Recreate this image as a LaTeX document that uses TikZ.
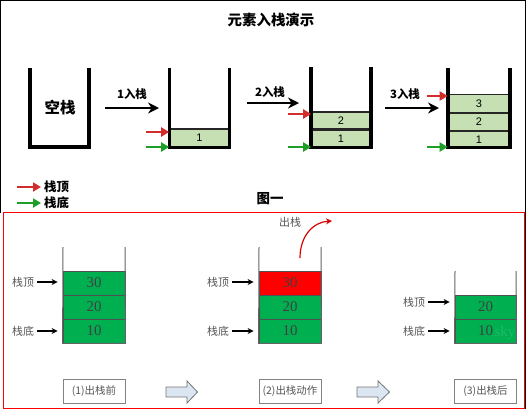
\documentclass[tikz,border=0pt]{standalone}
\usepackage{fontspec}
\setmainfont{Liberation Serif}
\newfontfamily\cjk{Noto Sans CJK SC}
\newfontfamily\arial{Liberation Sans}
\usetikzlibrary{arrows.meta}
\definecolor{lgreen}{RGB}{198,224,180}
\definecolor{tred}{RGB}{210,45,45}
\definecolor{tgreen}{RGB}{30,160,40}
\definecolor{bgreen}{RGB}{0,176,80}
\definecolor{bred}{RGB}{255,0,0}
\definecolor{lblue}{RGB}{220,230,242}
\definecolor{gline}{RGB}{100,100,100}
\definecolor{gtext}{RGB}{85,85,85}
\tikzset{
  wall/.style={line width=3.2bp,line join=miter},
  tbox/.style={draw=black!85,line width=1.6bp,fill=lgreen,inner sep=0pt,
    font=\arial\fontsize{11}{12}\selectfont},
  pusharr/.style={line width=2.8bp,-{Stealth[length=11bp,width=11bp]}},
  pushlbl/.style={font=\cjk\bfseries\fontsize{11.5}{13}\selectfont},
  redarr/.style={tred,line width=2.6bp,-{Triangle[length=8bp,width=9bp]}},
  greenarr/.style={tgreen,line width=2.6bp,-{Triangle[length=8bp,width=9bp]}},
  gwall/.style={gline,line width=1bp},
  bbox/.style={draw=gline!80!black,line width=0.8bp,fill=bgreen,inner sep=0pt,
    minimum height=24bp,text=black!75,font=\fontsize{15}{16}\selectfont},
  rbox/.style={bbox,fill=bred},
  blbl/.style={text=gtext,font=\cjk\fontsize{11}{12}\selectfont},
  barr/.style={line width=1.2bp,-{Stealth[length=6bp,width=6bp]}},
  btn/.style={draw=gline!80,line width=0.9bp,fill=white,minimum width=62bp,
    minimum height=24bp,inner sep=0pt,text=gtext,font=\cjk\fontsize{10.5}{12}\selectfont},
  hollow/.style={draw=gline!90,line width=0.8bp,fill=lblue,line join=miter}
}
\begin{document}
\begin{tikzpicture}[x=1bp,y=-1bp]
\useasboundingbox (0,0) rectangle (526,409);
% frames
\draw[black,line width=1.3bp] (0.7,212.5) -- (0.7,0.7) -- (525.3,0.7) -- (525.3,409);
\draw[bred,line width=1.2bp] (3.6,212.5) rectangle (524.6,408.2);

% ---------- top panel ----------
\node[font=\cjk\bfseries\fontsize{14.5}{16}\selectfont] (title) at (271,20) {元素入栈演示};

% empty stack
\draw[wall] (30,68) -- (30,147) -- (89,147) -- (89,68);
\node[font=\cjk\bfseries\fontsize{15.5}{17}\selectfont] (empty) at (60,108) {空栈};

% push 1
\coordinate (p1s) at (105,108); \coordinate (p1e) at (159,108);
\draw[pusharr] (p1s) -- (p1e);
\node[pushlbl] (l1) at (132,94) {1入栈};

% stack 2
\node[tbox,minimum width=59bp,minimum height=18bp] (s2a) at (199.5,138) {1};
\draw[wall] (169.5,68) -- (169.5,147.5) -- (229.5,147.5) -- (229.5,68);
\coordinate (r2) at (146,132); \coordinate (g2) at (146,147);
\draw[redarr] (r2) -- (r2 -| s2a.west);
\draw[greenarr] (g2) -- (g2 -| s2a.west);

% push 2
\coordinate (p2s) at (247,103); \coordinate (p2e) at (299,103);
\draw[pusharr] (p2s) -- (p2e);
\node[pushlbl] (l2) at (270,92) {2入栈};

% stack 3
\node[tbox,minimum width=58bp,minimum height=17bp] (s3a) at (341,138.5) {1};
\node[tbox,minimum width=58bp,minimum height=17bp] (s3b) at (341,120.5) {2};
\draw[wall] (311,67) -- (311,147.5) -- (371,147.5) -- (371,67);
\coordinate (r3) at (288,114); \coordinate (g3) at (288,147);
\draw[redarr] (r3) -- (r3 -| s3b.west);
\draw[greenarr] (g3) -- (g3 -| s3a.west);

% push 3
\coordinate (p3s) at (385,108); \coordinate (p3e) at (439,108);
\draw[pusharr] (p3s) -- (p3e);
\node[pushlbl] (l3) at (405,94) {3入栈};

% stack 4
\node[tbox,minimum width=61bp,minimum height=16bp] (s4a) at (479,139.5) {1};
\node[tbox,minimum width=61bp,minimum height=17bp] (s4b) at (479,122) {2};
\node[tbox,minimum width=61bp,minimum height=18bp] (s4c) at (479,103.5) {3};
\draw[wall] (448,68) -- (448,147.5) -- (510,147.5) -- (510,68);
\coordinate (r4) at (427,96); \coordinate (g4) at (427,147);
\draw[redarr] (r4) -- (r4 -| s4c.west);
\draw[greenarr] (g4) -- (g4 -| s4a.west);

% legend
\coordinate (lr) at (17,187); \coordinate (lg) at (17,203);
\node[font=\cjk\bfseries\fontsize{12.5}{14}\selectfont,anchor=west,inner sep=0pt] (ltop) at (44,187) {栈顶};
\node[font=\cjk\bfseries\fontsize{12.5}{14}\selectfont,anchor=west,inner sep=0pt] (lbot) at (44,203) {栈底};
\draw[redarr] (lr) -- ([xshift=-3bp]ltop.west);
\draw[greenarr] (lg) -- ([xshift=-3bp]lbot.west);
\node[font=\cjk\bfseries\fontsize{13.5}{15}\selectfont] (fig) at (270,199) {图一};

% ---------- bottom panel ----------
% stack A
\node[bbox,minimum width=62bp] (a10) at (94,331) {10};
\node[bbox,minimum width=62bp] (a20) at (94,307) {20};
\node[bbox,minimum width=62bp] (a30) at (94,283) {30};
\draw[gwall] (63,247) -- (a10.south west) -- (a10.south east) -- (125,247);
\node[blbl] (at) at (23,282) {栈顶};
\node[blbl] (ab) at (23,331) {栈底};
\draw[barr] (at.east) -- ([xshift=-5bp]at.east -| a30.west);
\draw[barr] (ab.east) -- ([xshift=-5bp]ab.east -| a10.west);
\node[btn] (btn1) at (94,391) {(1)出栈前};

% hollow arrow 1
\draw[hollow] (166,387) -- (187,387) -- (187,381) -- (197.5,392) -- (187,403) -- (187,397) -- (166,397) -- cycle;

% stack B
\node[bbox,minimum width=62bp] (b10) at (290,331) {10};
\node[bbox,minimum width=62bp] (b20) at (290,307) {20};
\node[rbox,minimum width=62bp] (b30) at (290,283) {30};
\draw[gwall] (259,247) -- (b10.south west) -- (b10.south east) -- (321,247);
\node[blbl] (bt) at (218,282) {栈顶};
\node[blbl] (bb) at (218,331) {栈底};
\draw[barr] (bt.east) -- ([xshift=-5bp]bt.east -| b30.west);
\draw[barr] (bb.east) -- ([xshift=-5bp]bb.east -| b10.west);
\coordinate (popS) at (300,258); \coordinate (popE) at (332,221);
\draw[bred!85!black,line width=1.2bp,-{Stealth[length=6bp,width=6bp]}] (popS) .. controls (300,236) and (313,222) .. (popE);
\node[blbl] (pop) at (290,222) {出栈};
\node[btn] (btn2) at (290,391) {(2)出栈动作};

% hollow arrow 2
\draw[hollow] (357,387) -- (378,387) -- (378,381) -- (389.5,392) -- (378,403) -- (378,397) -- (357,397) -- cycle;

% stack C
\node[bbox,minimum width=61bp] (c10) at (485.5,331) {10};
\node[bbox,minimum width=61bp] (c20) at (485.5,307) {20};
\draw[gwall] (455,271) -- (c10.south west) -- (c10.south east) -- (516,271);
\node[blbl] (ct) at (414,302) {栈顶};
\node[blbl] (cb) at (414,331) {栈底};
\draw[barr] (ct.east) -- ([xshift=-5bp]ct.east -| c20.west);
\draw[barr] (cb.east) -- ([xshift=-5bp]cb.east -| c10.west);
\node[text=bgreen!88!white,font=\fontsize{15}{16}\selectfont] (wm) at (505,333) {sky};
\node[btn] (btn3) at (485.5,391) {(3)出栈后};
\end{tikzpicture}
\end{document}
